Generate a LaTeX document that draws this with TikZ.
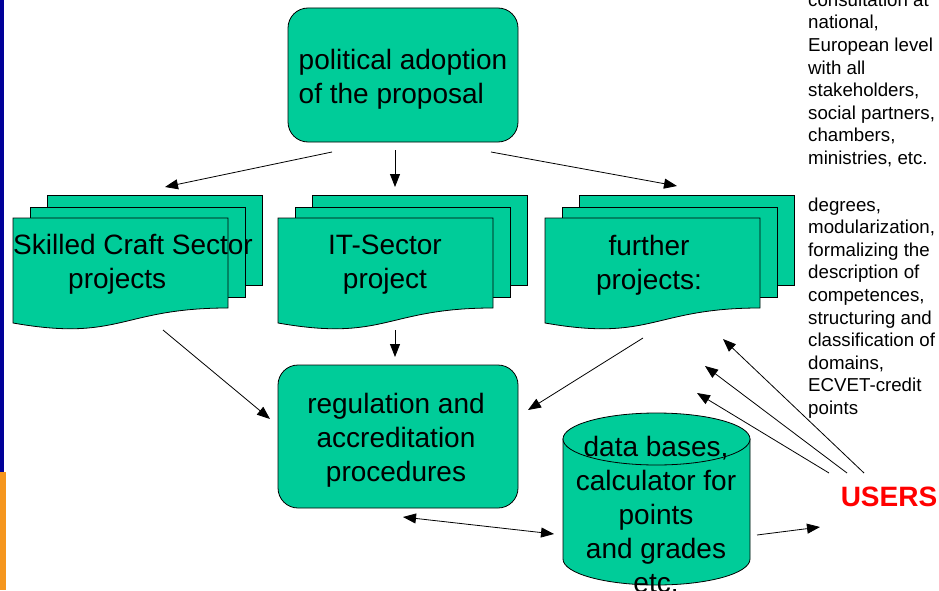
\documentclass[tikz,border=0pt]{standalone}
\usepackage{fontspec}
\setmainfont{Liberation Sans}
\usetikzlibrary{arrows.meta}
\definecolor{boxgreen}{RGB}{0,204,153}
\definecolor{barblue}{RGB}{0,0,153}
\definecolor{barorange}{RGB}{245,150,30}
\definecolor{userred}{RGB}{255,0,0}
\newcommand\mydocstack[1]{%
  \filldraw[shapefill] (#1+34,195) rectangle (#1+249,285);
  \filldraw[shapefill] (#1+17,207) rectangle (#1+232,297);
  \filldraw[shapefill] (#1,218) -- (#1+215,218) -- (#1+215,308)
     .. controls (#1+107.5,308) and (#1+107.5,342) .. (#1,323) -- cycle;
}
\begin{document}
\begin{tikzpicture}[x=1pt,y=-1pt,
  shapefill/.style={fill=boxgreen,draw=black,line width=0.8pt},
  rbox/.style={shapefill,rounded corners=20pt,inner sep=0pt},
  bigtext/.style={font=\fontsize{28}{34}\selectfont,inner sep=0pt},
  sidetext/.style={font=\fontsize{18.7}{22.6}\selectfont,align=left,inner sep=0pt,anchor=base west},
  arr/.style={-{Triangle[length=13pt,width=10pt]},line width=0.8pt},
  darr/.style={{Triangle[length=13pt,width=10pt]}-{Triangle[length=13pt,width=10pt]},line width=0.8pt}]
\useasboundingbox (0,0) rectangle (939,591);
% side bars
\fill[barblue] (0,0) rectangle (4,472);
\fill[barorange] (0,472) rectangle (6,590);
% top box
\node[rbox,minimum width=230pt,minimum height=134pt] (topbox) at (403,75) {};
\node[bigtext,align=left] (toptext) at (403,79) {political adoption\\ of the proposal};
% document stacks
\mydocstack{13}
\mydocstack{278}
\mydocstack{545}
\node[bigtext,align=left,anchor=west] (skill) at (13,264) {Skilled Craft Sector\\\hspace*{55pt}projects};
\node[bigtext,align=center] (itsec) at (385,265) {IT-Sector\\project};
\node[bigtext,align=center] (further) at (649,265) {further\\projects:};
% regulation box
\node[rbox,minimum width=240pt,minimum height=143pt] (regbox) at (398,436.5) {};
\node[bigtext,align=center] (regtext) at (396,440) {regulation and\\accreditation\\procedures};
% cylinder
\filldraw[shapefill] (563,439) -- (563,559)
   arc[start angle=180,end angle=360,x radius=93.5pt,y radius=26pt] -- (750,439) -- cycle;
\filldraw[shapefill] (656.5,439) ellipse [x radius=93.5pt,y radius=26pt];
\node[bigtext,align=center] (db) at (656,514) {data bases,\\calculator for\\points\\and grades\\etc.};
% users
\node[font=\fontsize{28}{34}\selectfont\bfseries,text=userred,inner sep=0pt] (users) at (889,497) {USERS};
% side texts (base anchor = baseline of the last line)
\node[sidetext] (consult) at (808,164.5) {consultation at\\national,\\European level\\with all\\stakeholders,\\social partners,\\chambers,\\ministries, etc.};
\node[sidetext] (degrees) at (808,414.5) {degrees,\\modularization,\\formalizing the\\description of\\competences,\\structuring and\\classification of\\domains,\\ECVET-credit\\points};
% connector end points
\coordinate (a1s) at (332,152); \coordinate (a1e) at (165,187);
\coordinate (a2s) at (395,150); \coordinate (a2e) at (395,187);
\coordinate (a3s) at (491,152); \coordinate (a3e) at (677,186);
\coordinate (b1s) at (163,330); \coordinate (b1e) at (270,419);
\coordinate (b2s) at (395,330); \coordinate (b2e) at (395,357);
\coordinate (b3s) at (643,338); \coordinate (b3e) at (528,410);
\coordinate (c1s) at (403,517); \coordinate (c1e) at (554,534);
\coordinate (c2s) at (757,535); \coordinate (c2e) at (820,527);
\coordinate (u1s) at (829,473); \coordinate (u1e) at (697,393);
\coordinate (u2s) at (847,473); \coordinate (u2e) at (705,366);
\coordinate (u3s) at (864,473); \coordinate (u3e) at (723,339);
% connectors
\draw[arr] (a1s) -- (a1e);
\draw[arr] (a2s) -- (a2e);
\draw[arr] (a3s) -- (a3e);
\draw[arr] (b1s) -- (b1e);
\draw[arr] (b2s) -- (b2e);
\draw[arr] (b3s) -- (b3e);
\draw[darr] (c1s) -- (c1e);
\draw[arr] (c2s) -- (c2e);
\draw[arr] (u1s) -- (u1e);
\draw[arr] (u2s) -- (u2e);
\draw[arr] (u3s) -- (u3e);
\end{tikzpicture}
\end{document}
